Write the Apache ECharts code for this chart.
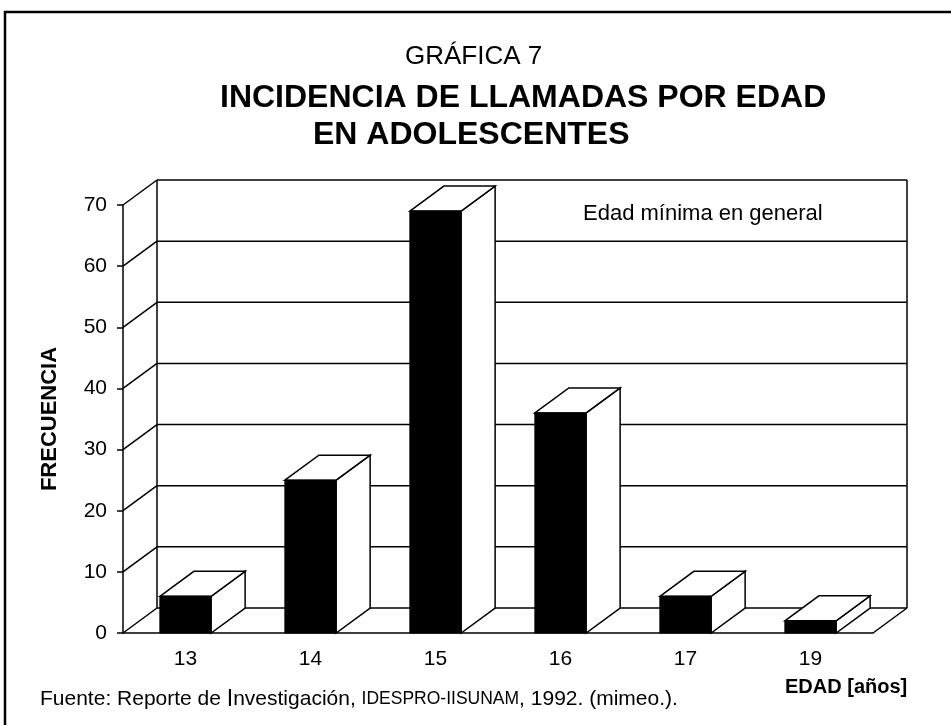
<!DOCTYPE html>
<html>
<head>
<meta charset="utf-8">
<title>Gráfica 7</title>
<script src="https://cdn.jsdelivr.net/npm/echarts@6.0.0/dist/echarts.min.js"></script>
<style>
    html, body { margin: 0; padding: 0; background: #fff; }
    #grafica7 { width: 951px; height: 725px; }
</style>
</head>
<body>
<div id="grafica7"></div>
<script>
    // datos
    var edades = ['13', '14', '15', '16', '17', '19'];
    var frecuencia = [6, 25, 69, 36, 6, 2];
    var yTicks = [0, 10, 20, 30, 40, 50, 60, 70];

    var FONT = 'Liberation Sans, Arial, Helvetica, sans-serif';
    // profundidad del efecto 3D (px)
    var DX = 34, DY = -25;
    var linea = {stroke: '#000', lineWidth: 1.5};

    // pared del fondo, piso y líneas de la cuadrícula
    function renderPared(params, api) {
        var cs = params.coordSys;
        var x0 = cs.x, x1 = cs.x + cs.width;
        var y = api.coord([0, api.value(1)])[1];
        var hijos = [
            {type: 'line', shape: {x1: x0, y1: y, x2: x0 + DX, y2: y + DY}, style: linea},
            {type: 'line', shape: {x1: x0 + DX, y1: y + DY, x2: x1 + DX, y2: y + DY}, style: linea}
        ];
        if (params.dataIndex === 0) {
            hijos.push(
                {type: 'line', shape: {x1: x1, y1: y, x2: x1 + DX, y2: y + DY}, style: linea},
                {type: 'line', shape: {x1: x0 + DX, y1: y + DY, x2: x0 + DX, y2: cs.y + DY}, style: linea},
                {type: 'line', shape: {x1: x1 + DX, y1: y + DY, x2: x1 + DX, y2: cs.y + DY}, style: linea}
            );
        }
        return {type: 'group', children: hijos};
    }

    // barra con cara frontal negra, tapa y lado blancos
    function renderBarra(params, api) {
        var base = api.coord([api.value(0), 0]);
        var tope = api.coord([api.value(0), api.value(1)]);
        var hw = api.size([1, 0])[0] * 0.205;
        var xl = base[0] - hw, xr = base[0] + hw, y0 = base[1], yt = tope[1];
        var st = {fill: '#fff', stroke: '#000', lineWidth: 1.5};
        return {
            type: 'group',
            children: [
                {type: 'polygon', shape: {points: [[xr, yt], [xr + DX, yt + DY], [xr + DX, y0 + DY], [xr, y0]]}, style: st},
                {type: 'polygon', shape: {points: [[xl, yt], [xl + DX, yt + DY], [xr + DX, yt + DY], [xr, yt]]}, style: st},
                {type: 'rect', shape: {x: xl, y: yt, width: xr - xl, height: y0 - yt}, style: {fill: '#000', stroke: '#000', lineWidth: 1}}
            ]
        };
    }

    var txt = function (size, weight) {
        return {fontFamily: FONT, fontSize: size, fontWeight: weight || 'normal', color: '#000'};
    };

    var option = {
        animation: false,
        backgroundColor: '#fff',
        title: [
            {text: 'GRÁFICA 7', left: 405, top: 44, padding: 0, textStyle: txt(26)},
            {text: 'INCIDENCIA DE LLAMADAS POR EDAD', left: 220, top: 82, padding: 0, textStyle: txt(32, 'bold')},
            {text: 'EN ADOLESCENTES', left: 313, top: 119, padding: 0, textStyle: txt(32, 'bold')},
            {text: 'Edad mínima en general', left: 583, top: 203, padding: 0, textStyle: txt(22)},
            {text: 'EDAD [años]', left: 785, top: 677, padding: 0, textStyle: txt(20, 'bold')},
            {
                text: '{a|Fuente: Reporte de }{b|I}{a|nvestigación, }{c|IDESPRO-IISUNAM}{a|, 1992. (mimeo.).}',
                left: 40, top: 688, padding: 0,
                textStyle: {
                    rich: {
                        a: txt(21),
                        b: txt(23),
                        c: txt(17.5)
                    }
                }
            }
        ],
        graphic: [
            {type: 'rect', shape: {x: 5, y: 12, width: 1000, height: 800}, style: {fill: null, stroke: '#000', lineWidth: 2.5}}
        ],
        grid: {left: 123, top: 205, width: 750, height: 428},
        xAxis: {
            type: 'category',
            data: edades,
            axisLine: {lineStyle: {color: '#000', width: 1.5}},
            axisTick: {length: 6, lineStyle: {color: '#000', width: 1.5}},
            axisLabel: {margin: 16, fontFamily: FONT, fontSize: 21, color: '#000'},
            splitLine: {show: false}
        },
        yAxis: {
            type: 'value',
            min: 0, max: 70, interval: 10,
            name: 'FRECUENCIA',
            nameLocation: 'middle',
            nameRotate: 90,
            nameGap: 62,
            nameTextStyle: txt(22, 'bold'),
            axisLine: {show: true, lineStyle: {color: '#000', width: 1.5}},
            axisTick: {show: true, length: 6, lineStyle: {color: '#000', width: 1.5}},
            axisLabel: {margin: 16, fontFamily: FONT, fontSize: 21, color: '#000'},
            splitLine: {show: false}
        },
        series: [
            {
                type: 'custom',
                silent: true,
                z: 1,
                renderItem: renderPared,
                data: yTicks.map(function (v) { return [0, v]; })
            },
            {
                type: 'custom',
                z: 3,
                renderItem: renderBarra,
                data: edades.map(function (e, i) { return [i, frecuencia[i]]; })
            }
        ]
    };

    var chart = echarts.init(document.getElementById('grafica7'));
    chart.setOption(option);
</script>
</body>
</html>
